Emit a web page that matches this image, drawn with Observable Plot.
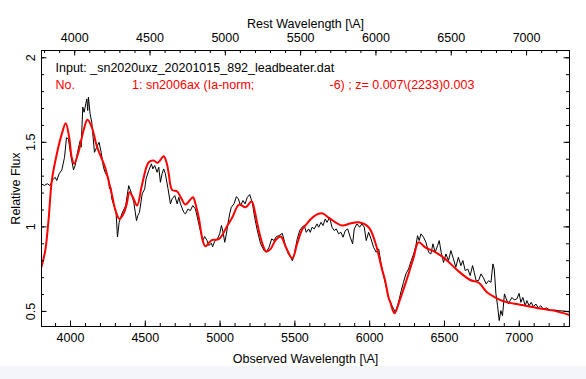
<!DOCTYPE html>
<html>
<head>
<meta charset="utf-8">
<script src="https://cdn.jsdelivr.net/npm/d3@7"></script>
<script src="https://cdn.jsdelivr.net/npm/@observablehq/plot@0.6"></script>
<style>
  html, body { margin: 0; padding: 0; background: #f4f5fb; }
  #chart svg { display: block; background: white; }
</style>
</head>
<body>
<div id="chart"></div>
<script>
// ---- data ----
const redshift = 0.007;
const inputLabel = "Input: _sn2020uxz_20201015_892_leadbeater.dat";
const matchLabels = ["No.", "1: sn2006ax (Ia-norm;", "-6) ; z= 0.007\\(2233)0.003"];
const xTitle = "Observed Wavelength [\\A]";
const topTitle = "Rest Wavelength [\\A]";
const yTitle = "Relative Flux";

const obsMajor = [4000, 4500, 5000, 5500, 6000, 6500, 7000];
const obsMinor = d3.range(3900, 7400, 100);
const restMajor = [4000, 4500, 5000, 5500, 6000, 6500, 7000];
const restMinor = d3.range(3800, 7300, 100);
const yMajor = [0.5, 1, 1.5, 2];
const yMinor = d3.range(5, 21).map(d => d / 10);

const specWave = [3806,3825,3845,3864,3880,3898,3908,3924,3942,3960,3973,3986,4002,4020,4031,4049,4065,4071,4082,4091,4102,4109,4115,4120,4131,4142,4160,4175,4191,4205,4220,4231,4242,4254,4260,4269,4276,4294,4305,4314,4325,4343,4369,4389,4405,4423,4441,4450,4461,4479,4496,4505,4523,4541,4550,4563,4579,4590,4601,4612,4623,4634,4652,4668,4679,4697,4713,4724,4735,4757,4768,4786,4801,4817,4835,4853,4868,4884,4897,4913,4924,4942,4950,4964,4982,4997,5009,5020,5031,5042,5053,5064,5075,5093,5109,5122,5137,5153,5167,5182,5198,5207,5216,5231,5249,5271,5294,5309,5327,5345,5361,5376,5394,5416,5434,5456,5472,5483,5494,5516,5532,5548,5563,5576,5592,5603,5615,5630,5648,5659,5675,5688,5703,5715,5732,5748,5764,5777,5792,5808,5822,5837,5853,5870,5886,5897,5915,5933,5948,5964,5977,5993,6009,6026,6044,6060,6075,6093,6111,6126,6149,6160,6171,6182,6193,6211,6226,6242,6260,6278,6294,6309,6320,6331,6343,6360,6376,6394,6409,6423,6438,6454,6465,6478,6494,6510,6527,6543,6560,6576,6593,6610,6623,6639,6656,6672,6688,6699,6712,6728,6744,6761,6779,6795,6811,6824,6833,6844,6855,6866,6877,6888,6901,6913,6928,6939,6951,6966,6984,6999,7011,7024,7040,7051,7066,7080,7095,7111,7128,7144,7161,7184,7206,7228,7260,7300,7336];
const specFlux = [1.254,1.245,1.255,1.244,1.278,1.293,1.274,1.314,1.337,1.412,1.527,1.521,1.422,1.337,1.363,1.451,1.511,1.471,1.708,1.678,1.728,1.757,1.688,1.767,1.669,1.619,1.441,1.471,1.5,1.441,1.353,1.323,1.304,1.293,1.225,1.234,1.166,1.116,1.077,0.94,1.027,1.077,1.126,1.244,1.205,1.146,1.037,1.067,1.086,1.195,1.225,1.284,1.333,1.373,1.343,1.363,1.323,1.353,1.264,1.314,1.343,1.314,1.225,1.136,1.166,1.185,1.136,1.175,1.136,1.086,1.077,1.106,1.096,1.126,1.106,1.037,0.978,0.919,0.943,0.919,0.89,0.903,0.883,0.915,0.929,0.959,1.008,0.968,0.909,0.959,1.021,1.077,1.116,1.136,1.179,1.166,1.126,1.156,1.136,1.175,1.191,1.166,1.14,1.057,0.978,0.9,0.86,0.85,0.879,0.929,0.919,0.943,0.948,0.962,0.9,0.84,0.82,0.8,0.83,0.929,0.978,0.998,1.008,0.968,0.988,0.968,0.998,0.988,1.018,0.998,1.027,1.008,1.047,1.027,1.057,0.998,0.978,0.988,0.959,0.968,0.939,0.978,0.988,0.939,0.9,0.988,1.018,0.998,1.018,0.998,0.919,0.968,0.929,0.879,0.85,0.87,0.79,0.712,0.643,0.583,0.534,0.515,0.495,0.524,0.554,0.623,0.672,0.722,0.751,0.801,0.84,0.889,0.948,0.919,0.959,0.939,0.909,0.85,0.84,0.9,0.85,0.889,0.919,0.85,0.79,0.84,0.801,0.86,0.811,0.761,0.82,0.771,0.801,0.741,0.751,0.712,0.771,0.731,0.682,0.682,0.722,0.698,0.663,0.682,0.672,0.781,0.751,0.604,0.534,0.446,0.505,0.475,0.604,0.574,0.544,0.564,0.583,0.568,0.574,0.607,0.554,0.583,0.534,0.564,0.534,0.554,0.528,0.544,0.521,0.534,0.515,0.521,0.505,0.509,0.505,0.502,0.497];

const tempWave = [3806,3831,3853,3875,3908,3942,3968,3991,4008,4024,4053,4087,4113,4142,4175,4209,4231,4254,4276,4298,4327,4354,4376,4394,4420,4445,4479,4523,4556,4583,4623,4645,4657,4679,4713,4740,4768,4800,4819,4840,4857,4884,4902,4930,4948,4993,5049,5082,5127,5171,5211,5230,5249,5283,5309,5338,5370,5405,5440,5483,5515,5550,5570,5625,5681,5737,5815,5870,5926,5993,6037,6082,6104,6126,6138,6166,6204,6260,6294,6327,6371,6427,6505,6583,6672,6717,6739,6784,6839,6895,7006,7118,7230,7336];
const tempFlux = [0.765,0.86,1.04,1.274,1.43,1.55,1.613,1.53,1.412,1.373,1.441,1.57,1.633,1.59,1.48,1.402,1.353,1.274,1.195,1.106,1.047,1.077,1.136,1.205,1.17,1.126,1.254,1.382,1.392,1.379,1.418,1.37,1.313,1.219,1.209,1.17,1.132,1.16,1.175,1.12,1.057,0.919,0.885,0.91,0.923,0.929,1.008,1.057,1.132,1.116,1.151,1.1,1.018,0.9,0.854,0.87,0.92,0.943,0.88,0.814,0.9,0.988,1.008,1.061,1.08,1.047,1.008,1.02,1.027,0.998,0.909,0.751,0.68,0.583,0.554,0.489,0.574,0.722,0.82,0.909,0.879,0.856,0.811,0.746,0.686,0.675,0.663,0.613,0.583,0.56,0.54,0.521,0.505,0.479];

const spectrum = specWave.map((w, i) => ({w, f: specFlux[i]}));
const template = tempWave.map((w, i) => ({w, f: tempFlux[i]}));

// ---- layout ----
const W = 586, H = 366;
const mL = 41, mR = 17, mT = 50, mB = 40;
const innerH = H - mT - mB, innerW = W - mL - mR;
const majorLen = 5.5, minorLen = 3;

const chart = Plot.plot({
  width: W, height: H,
  marginLeft: mL, marginRight: mR, marginTop: mT, marginBottom: mB,
  x: {domain: [3806, 7336], axis: null},
  y: {domain: [0.411, 2.043], axis: null},
  style: {fontFamily: "'Liberation Sans', Arial, sans-serif", fontSize: "12.5px", color: "black", background: "white"},
  marks: [
    // spectrum and template
    Plot.line(spectrum, {x: "w", y: "f", stroke: "black", strokeWidth: 1, clip: true}),
    Plot.line(template, {x: "w", y: "f", stroke: "#ff0000", strokeWidth: 2, curve: "catmull-rom", clip: true}),
    // frame
    Plot.frame({stroke: "black", strokeWidth: 1}),
    // bottom ticks (observed)
    Plot.tickX(obsMajor, {x: d => d, insetTop: innerH - majorLen, stroke: "black"}),
    Plot.tickX(obsMinor, {x: d => d, insetTop: innerH - minorLen, stroke: "black"}),
    // top ticks (rest)
    Plot.tickX(restMajor, {x: d => d * (1 + redshift), insetBottom: innerH - majorLen, stroke: "black"}),
    Plot.tickX(restMinor, {x: d => d * (1 + redshift), insetBottom: innerH - minorLen, stroke: "black"}),
    // left / right ticks
    Plot.tickY(yMajor, {y: d => d, insetRight: innerW - majorLen, stroke: "black"}),
    Plot.tickY(yMinor, {y: d => d, insetRight: innerW - minorLen, stroke: "black"}),
    Plot.tickY(yMajor, {y: d => d, insetLeft: innerW - majorLen, stroke: "black"}),
    Plot.tickY(yMinor, {y: d => d, insetLeft: innerW - minorLen, stroke: "black"}),
    // tick labels
    Plot.text(obsMajor, {x: d => d, text: d => String(d), frameAnchor: "bottom", dy: 11, lineAnchor: "middle", fill: "black"}),
    Plot.text(restMajor, {x: d => d * (1 + redshift), text: d => String(d), frameAnchor: "top", dy: -12.5, lineAnchor: "middle", fill: "black"}),
    Plot.text(yMajor, {y: d => d, text: d => String(d), frameAnchor: "left", dx: -11, rotate: -90, textAnchor: "middle", lineAnchor: "middle", fill: "black"}),
    // axis titles
    Plot.text([xTitle], {text: d => d, frameAnchor: "bottom", dy: 32, lineAnchor: "middle", fill: "black"}),
    Plot.text([topTitle], {text: d => d, frameAnchor: "top", dy: -27, lineAnchor: "middle", fill: "black"}),
    Plot.text([yTitle], {text: d => d, frameAnchor: "left", dx: -26, rotate: -90, textAnchor: "middle", lineAnchor: "middle", fill: "black"}),
    // annotations
    Plot.text([inputLabel], {text: d => d, frameAnchor: "top-left", dx: 14, dy: 17, textAnchor: "start", lineAnchor: "middle", fill: "black"}),
    Plot.text([matchLabels[0]], {text: d => d, frameAnchor: "top-left", dx: 14, dy: 34, textAnchor: "start", lineAnchor: "middle", fill: "#ff0000"}),
    Plot.text([matchLabels[1]], {text: d => d, frameAnchor: "top-left", dx: 90.5, dy: 34, textAnchor: "start", lineAnchor: "middle", fill: "#ff0000"}),
    Plot.text([matchLabels[2]], {text: d => d, frameAnchor: "top-left", dx: 288, dy: 34, textAnchor: "start", lineAnchor: "middle", fill: "#ff0000"})
  ]
});
document.getElementById("chart").appendChild(chart);
</script>
</body>
</html>
